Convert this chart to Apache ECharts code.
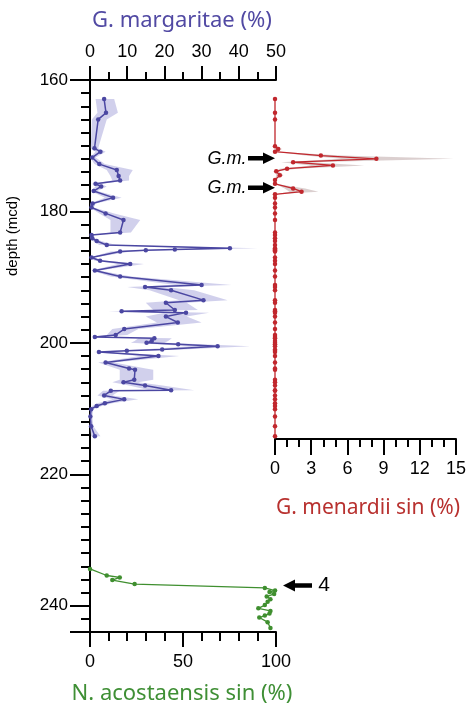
<!DOCTYPE html>
<html>
<head>
<meta charset="utf-8">
<script src="https://cdn.jsdelivr.net/npm/echarts@6/dist/echarts.min.js"></script>
<style>html,body{margin:0;padding:0;background:#fff}#c{width:469px;height:706px}</style>
</head>
<body>
<div id="c"></div>
<script>
// ---- G. margaritae (%) ----
const gmarDepth = [162.9,165.0,166.0,170.4,170.9,171.8,172.8,173.7,174.6,175.3,175.8,176.2,176.9,177.9,178.8,179.4,180.3,181.3,183.2,183.6,184.1,184.5,185.1,185.6,185.8,185.9,186.1,187.0,187.5,188.0,189.0,189.9,191.2,191.5,192.0,193.5,193.9,195.0,195.2,195.4,196.0,196.9,197.9,198.8,199.1,199.3,199.7,200.0,200.2,200.5,201.0,201.2,201.4,202.0,203.0,203.9,204.1,205.6,206.0,206.5,207.2,207.3,208.0,208.6,209.2,209.6,210.1,211.2,212.7,214.2];
const gmarValue = [3.8,4.3,2.2,1.2,2.8,0.6,2.5,7.2,7.7,8.1,1.5,3.0,1.0,6.2,0.7,0.4,4.2,9.0,8.1,0.4,0.6,1.8,4.5,37.6,22.8,15.0,8.1,0.4,2.7,10.8,1.3,8.1,30.0,14.8,21.8,30.5,20.4,22.8,8.5,25.8,20.4,23.6,9.2,6.9,1.3,17.3,16.6,15.2,23.7,34.3,19.4,9.9,2.4,18.4,4.2,10.5,12.1,11.9,9.0,14.8,21.8,5.6,3.8,9.2,4.0,1.8,0.3,0.1,0.3,1.3];
const gmarLow  = [1.5,2.0,0.5,0.2,1.5,0.0,1.2,4.5,5.5,6.0,0.5,1.5,0.2,4.0,0.0,0.0,2.5,5.5,5.5,0,0,0.8,2.5,30,17,11,5.5,0,1.3,7.5,0.4,5.5,23,10,16,24,15,17,5,20,15,18,6,4.5,0.4,13,12,11,18,27,14,6.5,1.0,13.5,2.2,7,8,8,6,10.5,16,3.5,2,6,2,0.6,0,0,0,0.3];
const gmarHigh = [6.5,7.5,4.5,2.2,4.2,1.5,4.0,11.5,10.5,10.5,2.8,4.5,2.0,8.5,1.5,1.0,6.5,13.5,11.0,1,1.3,3,7,45,29,19,11,1,4.2,14.5,2.5,11,38,20,28,37,26,29,12,32,26,30,13,10,2.5,22,21,20,30,43,25,13.5,4.0,24,6.5,15,17,17,13,19.5,28,8,6,13,6,3.2,0.9,0.6,0.9,2.8];

// ---- G. menardii sin (%) ----
const gmenDepth = [162.9,165.0,166.0,170.1,170.5,170.9,171.5,172.0,172.5,173.0,173.5,173.9,174.5,175.2,175.8,176.5,177.0,177.4,177.9,178.8,179.4,180.3,181.3,183.2,183.6,184.1,184.5,185.1,185.6,185.8,185.9,186.1,187.0,187.5,188.0,189.0,189.9,191.2,191.5,192.0,193.5,193.9,195.0,195.2,195.4,196.0,196.9,197.9,198.8,199.1,199.3,199.7,200.0,200.2,200.5,201.0,201.2,201.4,202.0,203.0,203.9,204.1,205.6,206.0,206.5,207.2,207.3,208.0,208.6,209.2,209.6,210.1,211.2,212.7,214.2];
const gmenValue = [0,0,0,0,0.27,0,3.8,8.4,1.5,4.8,1.0,0.1,0.4,0,0,1.5,2.2,0,0,0,0,0,0,0,0,0,0,0,0,0,0,0,0,0,0,0,0,0,0,0,0,0,0,0,0,0,0,0,0,0,0,0,0,0,0,0,0,0,0,0,0,0,0,0,0,0,0,0,0,0,0,0,0,0,0];
const gmenBandDepth = [170.1,170.5,170.9,171.5,172.0,172.5,173.0,173.5,173.9,174.5,175.2,175.8,176.5,177.0,177.4];
const gmenBandLow   = [0,0,0,2.5,5.5,0.5,3.0,0.4,0,0.1,0,0,0.8,1.2,0];
const gmenBandHigh  = [0,0.6,0,5.5,14.8,3.0,7.4,1.8,0.3,0.7,0,0,2.5,3.6,0];

// ---- N. acostaensis sin (%) ----
const nacoDepth = [234.4,235.4,235.7,236.1,236.7,237.3,237.7,237.9,238.2,238.6,239.0,239.4,239.9,240.4,240.8,241.2,241.5,241.8,242.5,243.4];
const nacoValue = [0,9,16,12,24,94,99.5,96.5,99,95,97,95.5,94,90.5,97,96.5,94,91,95.5,97];

// ---- tick labels ----
const depthLabels = [160,180,200,220,240];

const BLUE = '#4b47a2', RED = '#c1272d', GREEN = '#3f8f2f';
const numFont = 'Liberation Sans';

function pairs(xs, ys){ return xs.map((v,i)=>[v, ys[i]]); }
function band(depths, low, high, color){
  return function(params, api){
    const pts = [];
    for (let i=0;i<depths.length;i++) pts.push(api.coord([high[i], depths[i]]));
    for (let i=depths.length-1;i>=0;i--) pts.push(api.coord([low[i], depths[i]]));
    return {type:'polygon', shape:{points:pts}, style:{fill:color}, silent:true};
  };
}
const blackLine = {show:true, onZero:false, lineStyle:{color:'#000', width:2}};
function tick(len){ return {show:true, length:len, inside:false, lineStyle:{color:'#000', width:2}}; }
function minor(n,len){ return {show:true, splitNumber:n, length:len, lineStyle:{color:'#000', width:2}}; }
function lab(margin, size){ return {margin:margin, fontSize:size, color:'#000', fontFamily:numFont}; }

const chart = echarts.init(document.getElementById('c'), null, {renderer:'canvas'});
chart.setOption({
  animation:false,
  backgroundColor:'#fff',
  grid:[
    {left:90, top:80, width:186, height:552},
    {left:275, top:80, width:184, height:359}
  ],
  xAxis:[
    {gridIndex:0, type:'value', position:'top', min:0, max:50, interval:10,
     axisLine:blackLine, axisTick:tick(14), minorTick:minor(2,8), axisLabel:lab(19,18), splitLine:{show:false}, minorSplitLine:{show:false}},
    {gridIndex:0, type:'value', position:'bottom', min:0, max:100, interval:50,
     axisLine:blackLine, axisTick:tick(15), minorTick:minor(5,9), axisLabel:lab(21,18), splitLine:{show:false}},
    {gridIndex:1, type:'value', position:'bottom', min:0, max:15, interval:3,
     axisLine:blackLine, axisTick:tick(16), minorTick:minor(3,8), axisLabel:lab(21,18), splitLine:{show:false}}
  ],
  yAxis:[
    {gridIndex:0, type:'value', position:'left', inverse:true, min:160, max:244, interval:20,
     axisLine:blackLine, axisTick:tick(20), splitLine:{show:false},
     axisLabel:{margin:22, fontSize:17, color:'#000', fontFamily:numFont,
       formatter:function(v){ return depthLabels.indexOf(v) >= 0 ? String(v) : ''; }}},
    {gridIndex:0, type:'value', position:'left', inverse:true, min:160, max:244, interval:2,
     axisLine:{show:false}, axisTick:tick(9), axisLabel:{show:false}, splitLine:{show:false}},
    {gridIndex:1, type:'value', inverse:true, min:160, max:214.63, show:false}
  ],
  series:[
    {type:'custom', xAxisIndex:0, yAxisIndex:0, z:1, data:[[0,200]],
     renderItem: band(gmarDepth, gmarLow, gmarHigh, 'rgba(190,188,228,0.7)')},
    {type:'line', xAxisIndex:0, yAxisIndex:0, z:3, data:pairs(gmarValue, gmarDepth),
     symbol:'circle', symbolSize:4.5, showSymbol:true,
     lineStyle:{color:BLUE, width:1.5}, itemStyle:{color:BLUE}},
    {type:'custom', xAxisIndex:2, yAxisIndex:2, z:1, data:[[0,170]],
     renderItem: band(gmenBandDepth, gmenBandLow, gmenBandHigh, 'rgba(200,182,182,0.65)')},
    {type:'line', xAxisIndex:2, yAxisIndex:2, z:3, data:pairs(gmenValue, gmenDepth),
     symbol:'circle', symbolSize:4.5, showSymbol:true, clip:false,
     lineStyle:{color:RED, width:1.3}, itemStyle:{color:RED}},
    {type:'line', xAxisIndex:1, yAxisIndex:0, z:3, data:pairs(nacoValue, nacoDepth),
     symbol:'circle', symbolSize:4.5, showSymbol:true, clip:false,
     lineStyle:{color:GREEN, width:1.3}, itemStyle:{color:GREEN}}
  ],
  graphic:[
    {type:'text', x:182, y:21, style:{text:'G. margaritae (%)', fill:'#5149a3', font:'22px "Noto Sans"', textAlign:'center', textVerticalAlign:'middle'}},
    {type:'text', x:368, y:508, style:{text:'G. menardii sin (%)', fill:'#b8312f', font:'21px "Noto Sans"', textAlign:'center', textVerticalAlign:'middle'}},
    {type:'text', x:182, y:694, style:{text:'N. acostaensis sin (%)', fill:'#3f8f35', font:'22px "Noto Sans"', textAlign:'center', textVerticalAlign:'middle'}},
    {type:'text', x:13, y:236, rotation:Math.PI/2, style:{text:'depth (mcd)', fill:'#000', font:'15px "Liberation Sans"', textAlign:'center', textVerticalAlign:'middle'}},
    {type:'text', x:227, y:159, style:{text:'G.m.', fill:'#000', font:'italic 18px "Liberation Sans"', textAlign:'center', textVerticalAlign:'middle'}},
    {type:'text', x:227, y:188, style:{text:'G.m.', fill:'#000', font:'italic 18px "Liberation Sans"', textAlign:'center', textVerticalAlign:'middle'}},
    {type:'polygon', shape:{points:[[248,156],[263,156],[263,152.5],[275,158.3],[263,164],[263,160.5],[248,160.5]]}, style:{fill:'#000'}},
    {type:'polygon', shape:{points:[[248,185.5],[263,185.5],[263,182],[275,187.7],[263,193.5],[263,190],[248,190]]}, style:{fill:'#000'}},
    {type:'polygon', shape:{points:[[283,585.5],[295,579.5],[295,583.2],[312,583.2],[312,587.8],[295,587.8],[295,591.5]]}, style:{fill:'#000'}},
    {type:'text', x:324, y:585, style:{text:'4', fill:'#000', font:'21px "Liberation Sans"', textAlign:'center', textVerticalAlign:'middle'}}
  ]
});
</script>
</body>
</html>
